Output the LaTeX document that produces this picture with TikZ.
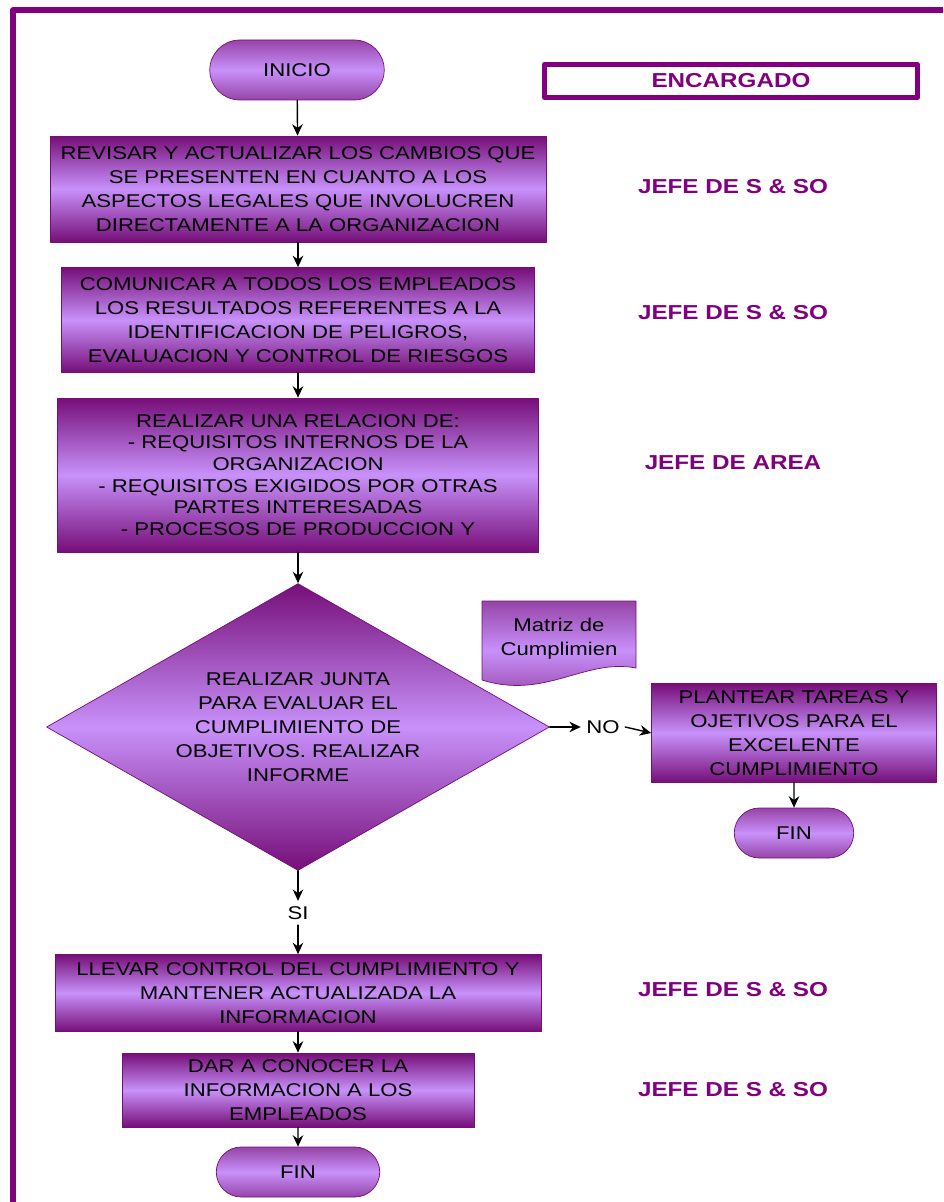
\documentclass[tikz,border=0pt]{standalone}
\usepackage{fontspec}
\setmainfont{Liberation Sans}[FakeStretch=1.2]
\usepackage{tikz}
\usetikzlibrary{arrows.meta,shapes,positioning}
\definecolor{frame}{RGB}{128,0,128}
\definecolor{boxdark}{RGB}{118,14,120}
\definecolor{boxlight}{RGB}{200,145,250}
\definecolor{termdark}{RGB}{150,68,168}
\tikzset{
  every picture/.style={line join=round, line cap=round, >={Stealth[length=6.5pt,width=6pt]}},
  txt/.style={font=\fontsize{10.5}{13.6}\selectfont},
  proc/.style={rectangle, draw=boxdark, thin, top color=boxdark, bottom color=boxdark, middle color=boxlight, align=center, inner sep=1pt, txt},
  term/.style={rounded rectangle, draw=boxdark, thin, top color=termdark, bottom color=termdark, middle color=boxlight, inner sep=1pt, txt},
  decide/.style={diamond, aspect=1.75, draw=boxdark, thin, top color=boxdark, bottom color=boxdark, middle color=boxlight, align=center, inner sep=0pt, txt},
  who/.style={text=frame, font=\fontsize{11.5}{14}\selectfont\bfseries},
  flow/.style={->, line width=0.8pt},
}

\begin{document}
\begin{tikzpicture}[x=0.02cm,y=-0.02cm]
\useasboundingbox (0,0) rectangle (943,1202);
\draw[frame,line width=3pt,line cap=butt] (13,1202)--(13,10)--(943,10);

% main column
\node[term,minimum width=3.56cm,minimum height=1.2cm] (ini) at (297,70) {INICIO};
\node[proc,minimum width=9.92cm,minimum height=2.12cm] (p1) at (298,189)
  {REVISAR Y ACTUALIZAR LOS CAMBIOS QUE\\SE PRESENTEN EN CUANTO A LOS\\ASPECTOS LEGALES QUE INVOLUCREN\\DIRECTAMENTE A LA ORGANIZACION};
\node[proc,minimum width=9.46cm,minimum height=2.1cm] (p2) at (298,320)
  {COMUNICAR A TODOS LOS EMPLEADOS\\LOS RESULTADOS REFERENTES A LA\\IDENTIFICACION DE PELIGROS,\\EVALUACION Y CONTROL DE RIESGOS};
\node[proc,minimum width=9.62cm,minimum height=3.08cm,font=\fontsize{10.5}{12.3}\selectfont] (p3) at (298,475)
  {REALIZAR UNA RELACION DE:\\- REQUISITOS INTERNOS DE LA\\ORGANIZACION\\- REQUISITOS EXIGIDOS POR OTRAS\\PARTES INTERESADAS\\- PROCESOS DE PRODUCCION Y};
\node[decide,minimum width=10.06cm,minimum height=5.74cm] (dec) at (298,727)
  {REALIZAR JUNTA\\PARA EVALUAR EL\\CUMPLIMIENTO DE\\OBJETIVOS. REALIZAR\\INFORME};
\node[txt,inner sep=3pt] (si) at (298,913) {SI};
\node[proc,minimum width=9.72cm,minimum height=1.54cm] (p4) at (298,993)
  {LLEVAR CONTROL DEL CUMPLIMIENTO Y\\MANTENER ACTUALIZADA LA\\INFORMACION};
\node[proc,minimum width=7.04cm,minimum height=1.48cm] (p5) at (298,1090)
  {DAR A CONOCER LA\\INFORMACION A LOS\\EMPLEADOS};
\node[term,minimum width=3.34cm,minimum height=1cm] (fin) at (298,1172) {FIN};

% rama NO
\node[txt,inner sep=3pt] (no) at (603,727) {NO};
\node[proc,minimum width=5.7cm,minimum height=1.98cm] (pno) at (794,733)
  {PLANTEAR TAREAS Y\\OJETIVOS PARA EL\\EXCELENTE\\CUMPLIMIENTO};
\node[term,minimum width=2.46cm,minimum height=1cm] (fin2) at (794,833) {FIN};

% documento
\path[draw=boxdark,thin,top color=termdark,bottom color=termdark,middle color=boxlight]
  (482,601) -- (636,601) -- (636,668) .. controls (585,658) and (545,700) .. (482,680) -- cycle;
\node[txt,align=center] (mat) at (559,639) {Matriz de\\Cumplimien};

% encargados
\node[draw=frame,line width=3pt,minimum width=7.46cm,minimum height=0.66cm,who] (enc) at (731,81) {ENCARGADO};
\node[who] (w1) at (733,187) {JEFE DE S \& SO};
\node[who] (w2) at (733,313) {JEFE DE S \& SO};
\node[who] (w3) at (733,463) {JEFE DE AREA};
\node[who] (w4) at (733,990) {JEFE DE S \& SO};
\node[who] (w5) at (733,1090) {JEFE DE S \& SO};

\draw[flow] (ini) -- (p1);
\draw[flow] (p1) -- (p2);
\draw[flow] (p2) -- (p3);
\draw[flow] (p3) -- (dec);
\draw[flow] (dec.south) -- (si.north);
\draw[flow] (si.south) -- (p4.north);
\draw[flow] (p4) -- (p5);
\draw[flow] (p5) -- (fin);
\draw[flow] (dec.east) -- (no.west);
\draw[flow] (no.east) -- (pno.west);
\draw[flow] (pno) -- (fin2);
\end{tikzpicture}
\end{document}
